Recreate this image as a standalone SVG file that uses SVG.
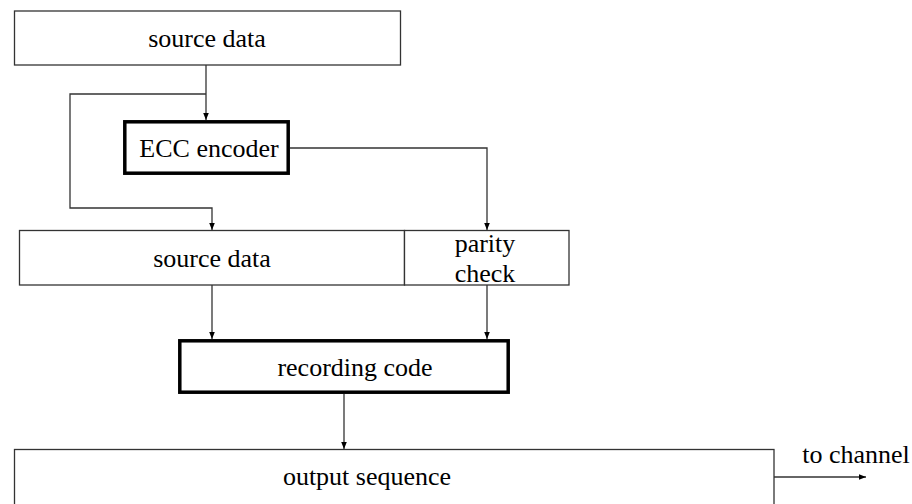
<svg xmlns="http://www.w3.org/2000/svg" width="912" height="504" viewBox="0 0 912 504">
<style>
.box{fill:#fff;stroke:#333;stroke-width:1.3}
.thick{fill:#fff;stroke:#000;stroke-width:3.5}
text{font-family:'Liberation Serif','Times New Roman',Times,'DejaVu Serif',serif;font-size:26px;fill:#000;text-anchor:middle}
.c{fill:none;stroke:#333;stroke-width:1.3}
</style>
<defs>
<marker id="arr" viewBox="0 0 10 10" refX="10" refY="5" markerWidth="7" markerHeight="7" markerUnits="userSpaceOnUse" orient="auto">
<path d="M0,1 L10,5 L0,9 Z" fill="#000"/>
</marker>
</defs>
<rect width="912" height="504" fill="#fff"/>
<g id="connectors">
<path class="c" d="M206,65 V120" marker-end="url(#arr)"/>
<path class="c" d="M206,94 H70 V208 H212 V230" marker-end="url(#arr)"/>
<path class="c" d="M290,148 H487 V230" marker-end="url(#arr)"/>
<path class="c" d="M212,285 V339" marker-end="url(#arr)"/>
<path class="c" d="M487,285 V339" marker-end="url(#arr)"/>
<path class="c" d="M344,394 V449" marker-end="url(#arr)"/>
<path class="c" d="M774,477 H866" marker-end="url(#arr)"/>
</g>
<g id="source-top">
<rect class="box" x="14.5" y="11" width="386" height="54"/>
<text x="207" y="47" font-family="Liberation Serif, serif">source data</text>
</g>
<g id="ecc-encoder">
<rect class="thick" x="124.8" y="121.8" width="163.4" height="51.4"/>
<text x="209" y="157" font-family="Liberation Serif, serif">ECC encoder</text>
</g>
<g id="source-mid">
<rect class="box" x="19.5" y="230.5" width="385" height="54.5"/>
<text x="212" y="267" font-family="Liberation Serif, serif">source data</text>
</g>
<g id="parity-check">
<rect class="box" x="404.5" y="230.5" width="164.5" height="54.5"/>
<text x="485" y="252" font-family="Liberation Serif, serif">parity</text>
<text x="485" y="282" font-family="Liberation Serif, serif">check</text>
</g>
<g id="recording-code">
<rect class="thick" x="179.8" y="340.8" width="328.4" height="51.4"/>
<text x="355" y="376" font-family="Liberation Serif, serif">recording code</text>
</g>
<g id="output-sequence">
<rect class="box" x="14.5" y="449.5" width="759.5" height="60"/>
<text x="367" y="485" font-family="Liberation Serif, serif">output sequence</text>
</g>
<g id="to-channel">
<text x="856" y="463" font-family="Liberation Serif, serif">to channel</text>
</g>
</svg>
